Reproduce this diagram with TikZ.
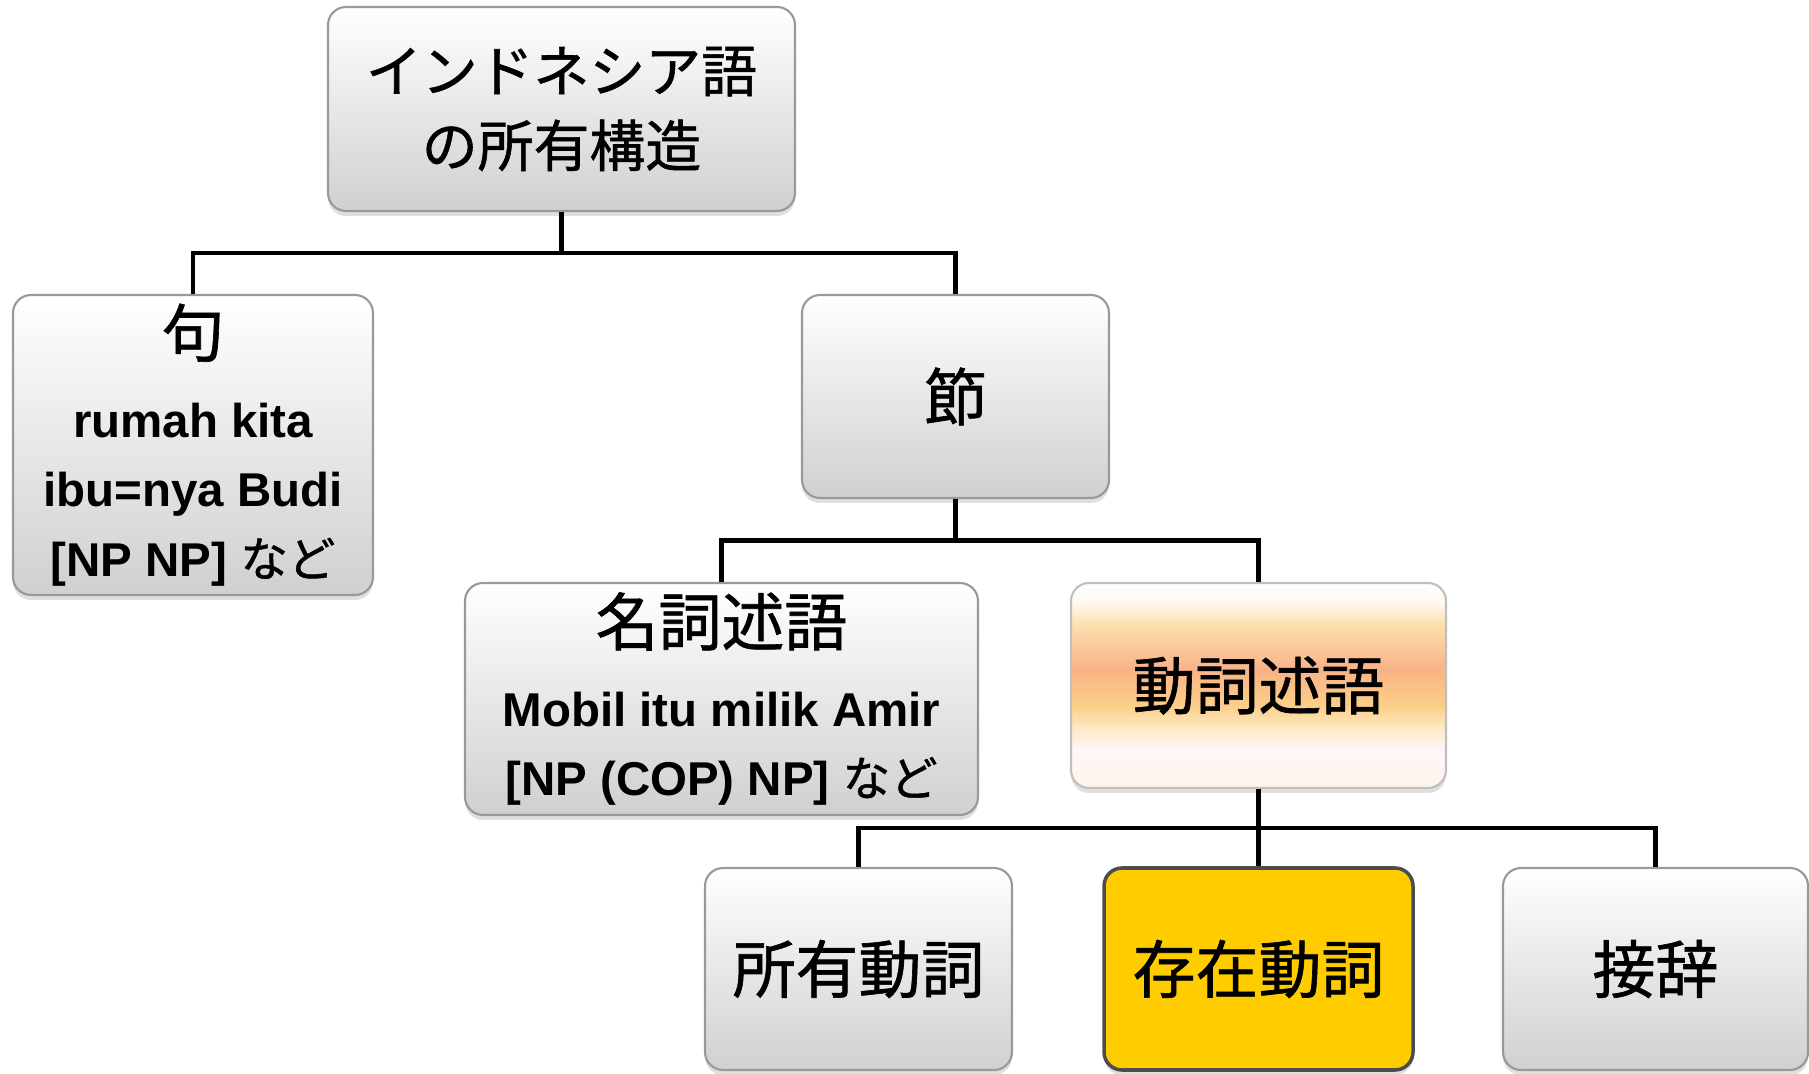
\documentclass[tikz,border=0pt]{standalone}
\usepackage{fontspec}
\newfontfamily\jpfont[FakeBold=1]{Noto Sans CJK JP}
\newfontfamily\lnfont{Liberation Sans}
\usetikzlibrary{calc,shadows}
\newcommand{\jpbig}{\jpfont\mdseries\fontsize{17.9}{22}\selectfont}
\newcommand{\jpmd}{\jpfont\mdseries}
\newcommand{\exfont}{\lnfont\bfseries\fontsize{13.5}{19.8}\selectfont}
\definecolor{boxgray}{HTML}{D0D0D0}
\definecolor{existyellow}{HTML}{FFCC00}
\definecolor{vA}{HTML}{FFF4EA}
\definecolor{vB}{HTML}{FFF6F8}
\definecolor{vC}{HTML}{FEEBCB}
\definecolor{vD}{HTML}{FCCF88}
\definecolor{vE}{HTML}{F9B386}
\definecolor{vF}{HTML}{FDE0B0}
\definecolor{vG}{HTML}{FFF8EE}
\pgfdeclareverticalshading{verbshade}{100bp}{color(0bp)=(vA); color(25bp)=(vA);
  color(34bp)=(vB); color(39bp)=(vC); color(45bp)=(vD); color(54bp)=(vE);
  color(65bp)=(vF); color(70bp)=(vG); color(75bp)=(white); color(100bp)=(white)}
\tikzset{
  box/.style={rectangle, rounded corners=1.8mm, align=center, inner sep=0pt,
    line width=0.6pt,
    drop shadow={shadow xshift=0mm, shadow yshift=-0.5mm, opacity=0.25}},
  greybox/.style={box, draw=black!40, top color=white, bottom color=boxgray},
  verbbox/.style={box, draw=black!25, shading=verbshade},
  existbox/.style={box, draw=black!70, line width=1pt, fill=existyellow},
  branch/.style={line width=1.4pt,
    to path={(\tikztostart.south) |- ($(\tikztostart.south)!0.5!(\tikztotarget.north)$) -| (\tikztotarget.north)}}
}
\begin{document}
\begin{tikzpicture}[x=0.1mm,y=0.1mm]
  \useasboundingbox (0,0) rectangle (1809,-1074);
  \draw
    (561.5,-109) node[greybox, minimum width=46.7mm, minimum height=20.4mm,
      font=\jpfont\fontsize{15.9}{21.3}\selectfont] (root) {インドネシア語\\の所有構造}
    (193,-445) node[greybox, minimum width=36mm, minimum height=30mm,
      font=\exfont] (ku) {{\jpbig 句}\\[3.2pt]rumah kita\\ibu=nya Budi\\{}[NP NP] {\jpmd など}}
    (955.5,-396.5) node[greybox, minimum width=30.7mm, minimum height=20.3mm,
      font=\jpbig] (setsu) {節}
    (721.5,-699) node[greybox, minimum width=51.3mm, minimum height=23.2mm,
      font=\exfont] (meishi) {{\jpbig 名詞述語}\\[3.2pt]Mobil itu milik Amir\\{}[NP (COP) NP] {\jpmd など}}
    (1258.5,-685.5) node[verbbox, minimum width=37.5mm, minimum height=20.5mm,
      font=\jpbig] (doushi) {動詞述語}
    (858.5,-969) node[greybox, minimum width=30.7mm, minimum height=20.2mm,
      font=\jpbig] (shoyu) {所有動詞}
    (1258.5,-969) node[existbox, minimum width=30.9mm, minimum height=20.2mm,
      font=\jpbig] (sonzai) {存在動詞}
    (1655.5,-969) node[greybox, minimum width=30.5mm, minimum height=20.2mm,
      font=\jpbig] (setsuji) {接辞};
  \begin{scope}[branch]
    \draw (root) to (ku);
    \draw (root) to (setsu);
    \draw (setsu) to (meishi);
    \draw (setsu) to (doushi);
    \draw (doushi) to (shoyu);
    \draw (doushi) to (sonzai);
    \draw (doushi) to (setsuji);
  \end{scope}
\end{tikzpicture}
\end{document}
